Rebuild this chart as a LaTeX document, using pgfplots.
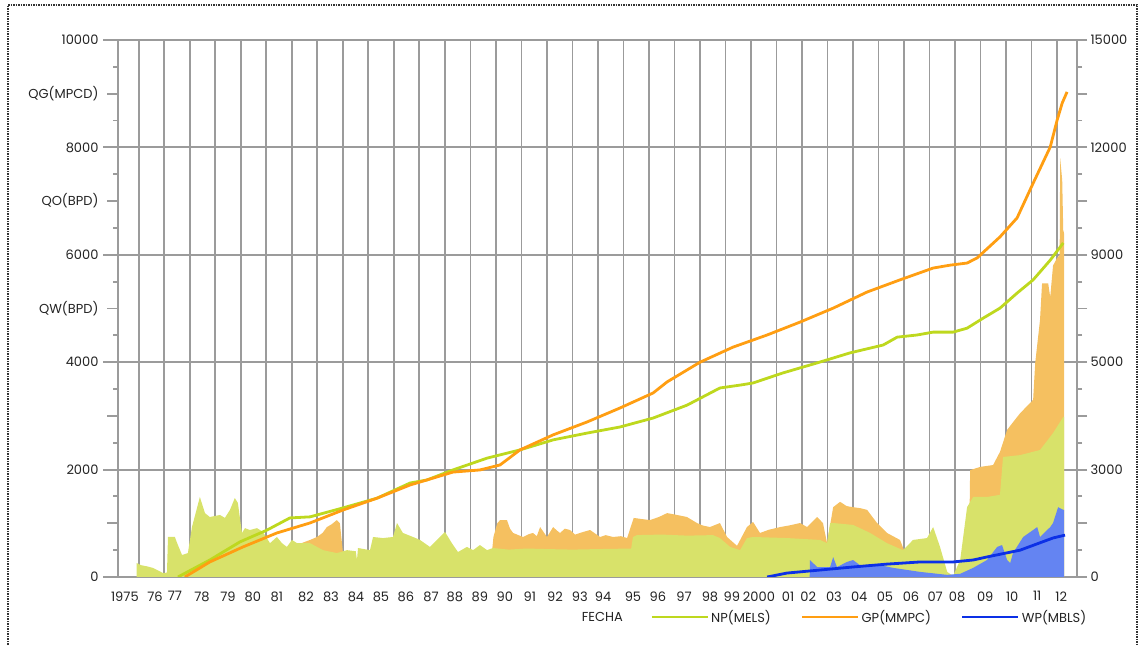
\documentclass[border=0pt]{standalone}
\usepackage{fontspec}
\setmainfont{Poppins}
\usepackage{pgfplots}
\pgfplotsset{compat=1.18}

\definecolor{qoarea}{RGB}{216,226,106}
\definecolor{qgarea}{RGB}{245,192,96}
\definecolor{qwarea}{RGB}{100,132,242}
\definecolor{npline}{RGB}{190,216,30}
\definecolor{gpline}{RGB}{255,158,18}
\definecolor{wpline}{RGB}{12,48,230}
\definecolor{gridgray}{RGB}{155,155,155}
\definecolor{txt}{RGB}{35,35,35}

\begin{document}
\begin{tikzpicture}[font=\fontsize{13pt}{15pt}\selectfont]
\path[use as bounding box] (0,0) rectangle (1141pt,645pt);
\draw[densely dotted, line width=1.5pt, black!80] (8pt,-5pt) -- (8pt,640pt) -- (1137pt,640pt) -- (1137pt,-5pt);

\pgfplotsset{
  common/.style={
    at={(118pt,68pt)}, anchor=south west,
    width=959pt, height=537pt, scale only axis,
    xmin=1975.18, xmax=2012.78,
    scaled ticks=false,
    tick align=outside,
    every tick label/.append style={font=\fontsize{13pt}{15pt}\selectfont, text=txt},
    /pgf/number format/assume math mode=true,
    axis line style={gridgray, line width=1.9pt},
    every tick/.style={gridgray, line width=1.9pt},
  }
}

% left axis: rates (areas)
\begin{axis}[common,
  ymin=0, ymax=10000,
  xtick={1975.45,1976.63,1977.41,1978.47,1979.49,1980.47,1981.41,1982.55,1983.53,1984.51,1985.49,1986.47,1987.45,1988.39,1989.37,1990.35,1991.33,1992.31,1993.29,1994.20,1995.37,1996.35,1997.37,1998.39,1999.25,2000.31,2001.45,2002.24,2003.25,2004.24,2005.25,2006.27,2007.22,2008.08,2009.18,2010.24,2011.22,2012.16},
  xticklabels={1975,76,77,78,79,80,81,82,83,84,85,86,87,88,89,90,91,92,93,94,95,96,97,98,99,2000,01,02,03,04,05,06,07,08,09,10,11,12},
  xtick style={draw=none},
  minor xtick={1976,1977,...,2012},
  xminorgrids=true,
  minor x grid style={gridgray, line width=1.9pt},
  ytick pos=left,
  ytick={0,1000,...,10000},
  yticklabels={0,{},2000,{},4000,QW(BPD),6000,QO(BPD),8000,QG(MPCD),10000},
  minor ytick={500,1500,...,9500},
  major tick length=11pt, minor tick length=5pt,
  extra y ticks={0,2000,...,10000},
  extra y tick labels={},
  extra y tick style={grid=major, major tick length=15pt},
  major grid style={gridgray, line width=1.9pt},
  yticklabel style={anchor=east, xshift=-5pt},
  xlabel={FECHA},
  xlabel style={at={(axis description cs:0.480,-0.0745)}, anchor=west, text=txt},
]
% QG (gas rate) - visible parts
\addplot[draw=none, fill=qgarea] coordinates {
(1982.20,600) (1982.71,690) (1982.98,745) (1983.20,820) (1983.37,930) (1983.55,980) (1983.76,1060) (1983.88,1000) (1984.00,450)
} \closedcycle;
\addplot[draw=none, fill=qgarea] coordinates {
(1989.85,500) (1989.90,745) (1990.05,1000) (1990.16,1060) (1990.43,1060) (1990.55,900) (1990.67,820) (1991.06,745) (1991.30,800) (1991.45,820) (1991.60,760) (1991.73,930) (1992.00,745) (1992.24,930) (1992.40,860) (1992.51,820) (1992.70,900) (1992.90,875) (1993.10,790) (1993.29,820) (1993.50,850) (1993.69,875) (1994.08,745) (1994.30,780) (1994.59,745) (1994.90,760) (1995.14,725) (1995.40,1100) (1995.70,1080) (1996.04,1060) (1996.40,1120) (1996.71,1190) (1997.10,1155) (1997.49,1117) (1997.88,1005) (1998.10,960) (1998.39,930) (1998.78,1005) (1999.06,745) (1999.45,580) (1999.84,930) (2000.08,1025) (2000.35,820) (2000.70,880) (2001.14,930) (2001.50,960) (2001.92,1005) (2002.20,930) (2002.59,1117) (2002.82,1005) (2002.98,630) (2003.22,1300) (2003.49,1400) (2003.75,1320) (2004.00,1300) (2004.30,1280) (2004.55,1250) (2004.94,1005) (2005.33,820) (2005.84,690) (2006.04,450)
} \closedcycle;
\addplot[draw=none, fill=qgarea] coordinates {
(2008.55,600) (2008.59,1990) (2008.98,2050) (2009.49,2085) (2009.76,2330) (2010.04,2740) (2010.30,2900) (2010.55,3050) (2010.94,3240) (2011.06,3300) (2011.14,3980) (2011.33,4790) (2011.41,5470) (2011.65,5470) (2011.73,5210) (2011.84,5800) (2012.00,5940) (2012.10,6000) (2012.12,7800) (2012.20,7390) (2012.24,6460) (2012.27,6400)
} \closedcycle;
% QO (oil rate)
\addplot[draw=none, fill=qoarea] coordinates {
(1975.91,260) (1976.08,220) (1976.30,200) (1976.55,170) (1976.94,75) (1977.10,80) (1977.14,745) (1977.41,745) (1977.50,630) (1977.69,410) (1977.92,445) (1978.08,930) (1978.39,1490) (1978.59,1190) (1978.78,1117) (1979.18,1155) (1979.37,1100) (1979.57,1250) (1979.76,1470) (1979.88,1380) (1980.04,820) (1980.16,910) (1980.35,875) (1980.63,910) (1980.86,840) (1981.14,630) (1981.41,745) (1981.61,630) (1981.80,560) (1982.00,690) (1982.20,630) (1982.71,630) (1983.22,500) (1983.76,445) (1984.16,500) (1984.50,480) (1984.55,316) (1984.59,540) (1985.06,500) (1985.18,745) (1985.57,725) (1985.96,745) (1986.12,1005) (1986.35,820) (1986.75,745) (1987.02,690) (1987.41,560) (1987.80,745) (1988.00,840) (1988.27,630) (1988.51,465) (1988.86,560) (1989.10,500) (1989.37,595) (1989.65,500) (1989.88,540) (1990.50,510) (1991.20,530) (1992.00,520) (1993.00,510) (1994.00,520) (1995.30,530) (1995.37,745) (1995.53,780) (1996.50,790) (1997.50,770) (1998.51,780) (1998.78,725) (1999.18,560) (1999.57,500) (1999.84,725) (2000.08,745) (2001.41,725) (2002.71,690) (2002.98,630) (2003.10,1005) (2003.22,1005) (2004.00,970) (2004.67,820) (2005.33,630) (2005.96,500) (2006.35,690) (2006.90,725) (2007.14,930) (2007.41,560) (2007.69,95) (2007.92,20) (2008.20,316) (2008.47,1300) (2008.71,1490) (2009.25,1490) (2009.76,1530) (2009.88,2235) (2010.55,2270) (2011.33,2365) (2011.84,2680) (2012.24,2980) (2012.27,2980)
} \closedcycle;
% QW (water rate)
\addplot[draw=none, fill=qwarea] coordinates {
(2002.30,0) (2002.31,316) (2002.59,185) (2003.10,185) (2003.22,370) (2003.37,185) (2003.76,280) (2004.00,316) (2004.27,220) (2005.06,220) (2005.57,170) (2006.63,95) (2007.69,40) (2008.20,60) (2008.71,170) (2009.25,316) (2009.65,560) (2009.84,595) (2010.04,316) (2010.16,260) (2010.27,445) (2010.67,745) (2011.06,875) (2011.22,930) (2011.33,745) (2011.73,930) (2011.84,1005) (2012.04,1300) (2012.24,1250) (2012.27,1250)
} \closedcycle;
\end{axis}

% right axis: cumulatives (lines)
\begin{axis}[common,
  ymin=0, ymax=15000,
  axis x line=none, axis y line*=right,
  ytick={0,1500,...,15000},
  yticklabels={0,{},3000,{},5000,{},9000,{},12000,{},15000},
  minor ytick={750,2250,...,14250},
  major tick length=10pt, minor tick length=5pt,
  yticklabel style={anchor=west},
  legend style={at={(0.555,-0.0745)}, anchor=west, draw=none, fill=none,
    inner sep=0pt, font=\fontsize{13pt}{15pt}\selectfont, text=txt,
    /tikz/every even column/.append style={column sep=28pt}},
  legend columns=3,
  legend cell align=left,
  legend image code/.code={\draw[#1] (0pt,0pt) -- (56pt,0pt);},
]
\addplot[npline, line width=2.8pt] coordinates {
(1977.53,0) (1978.78,475) (1979.96,980) (1981.02,1310) (1981.92,1650) (1982.71,1680) (1984.00,1930) (1985.33,2200) (1986.63,2625) (1987.29,2710) (1988.31,2990) (1989.65,3320) (1990.94,3550) (1992.24,3830) (1993.57,4020) (1994.86,4190) (1996.16,4440) (1997.49,4800) (1998.78,5280) (1999.57,5360) (2000.08,5420) (2001.25,5700) (2002.59,5980) (2003.88,6260) (2005.18,6480) (2005.73,6700) (2006.51,6760) (2007.14,6840) (2007.92,6840) (2008.47,6950) (2009.10,7230) (2009.76,7510) (2010.43,7930) (2011.06,8300) (2011.73,8850) (2012.24,9330)
};
\addlegendentry{NP(MELS)}
\addplot[gpline, line width=2.8pt] coordinates {
(1977.80,0) (1978.78,420) (1980.08,840) (1981.41,1230) (1982.71,1510) (1984.00,1870) (1985.33,2200) (1986.63,2570) (1987.29,2710) (1988.31,2930) (1989.37,2990) (1990.16,3130) (1990.94,3550) (1992.24,3970) (1993.57,4330) (1994.86,4720) (1996.16,5140) (1996.71,5450) (1998.00,6000) (1999.29,6420) (2000.63,6760) (2001.92,7120) (2003.22,7510) (2004.55,7960) (2005.84,8300) (2007.14,8630) (2007.80,8710) (2008.47,8770) (2008.86,8910) (2009.76,9500) (2010.43,10030) (2011.06,11000) (2011.73,12010) (2012.00,12760) (2012.20,13240) (2012.39,13550)
};
\addlegendentry{GP(MMPC)}
\addplot[wpline, line width=2.8pt] coordinates {
(2000.63,0) (2001.41,110) (2002.71,195) (2004.00,280) (2005.33,360) (2006.63,420) (2007.92,420) (2008.71,475) (2009.25,560) (2010.55,750) (2011.84,1090) (2012.31,1170)
};
\addlegendentry{WP(MBLS)}
\end{axis}
\end{tikzpicture}
\end{document}
